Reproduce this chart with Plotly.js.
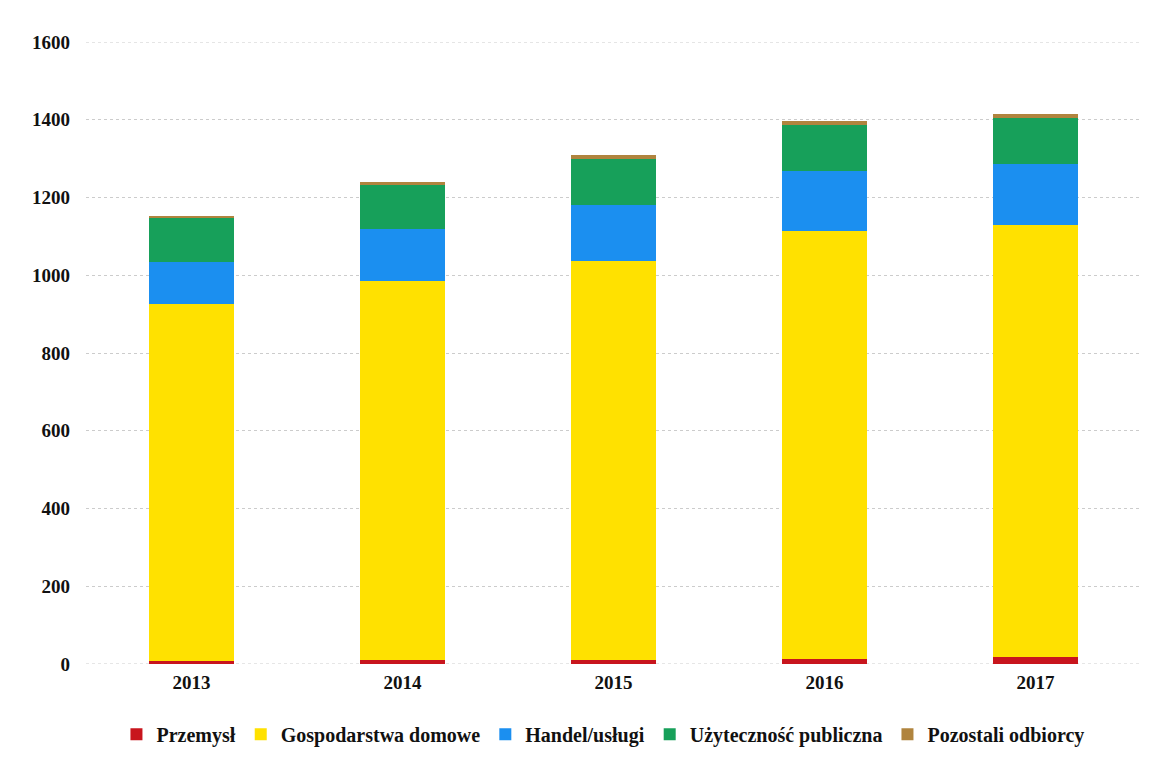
<!DOCTYPE html>
<html>
<head>
<meta charset="utf-8">
<script src="https://cdn.plot.ly/plotly-3.0.1.min.js"></script>
<style>html,body{margin:0;padding:0;background:#fff;}#chart{width:1154px;height:765px;}</style>
</head>
<body>
<div id="chart"></div>
<script>
const years = ['2013', '2014', '2015', '2016', '2017'];
const przemysl = [7, 10, 11, 14, 17];
const gospodarstwa = [920, 974, 1026, 1101, 1113];
const handel = [108, 136, 144, 153, 157];
const uzytecznosc = [113, 113, 119, 119, 118];
const pozostali = [5, 6, 9, 11, 10];
const edgeGridValues = [0, 1600];

const seriesNames = ['Przemysł', 'Gospodarstwa domowe', 'Handel/usługi', 'Użyteczność publiczna', 'Pozostali odbiorcy'];
const seriesValues = [przemysl, gospodarstwa, handel, uzytecznosc, pozostali];
const colors = ['#c8151d', '#ffe100', '#1b8ff0', '#17a05a', '#b0843e'];

const traces = seriesNames.map((n, i) => ({
  type: 'bar',
  name: n,
  x: years,
  y: seriesValues[i],
  marker: {color: colors[i], line: {width: 0}},
  hoverinfo: 'x+y+name'
}));

const shapes = edgeGridValues.map(v => ({
  type: 'line', xref: 'paper', yref: 'y', x0: 0, x1: 1, y0: v, y1: v,
  layer: 'below', line: {color: '#cccccc', width: 1, dash: 'dot'}
}));

const layout = {
  width: 1154,
  height: 765,
  barmode: 'stack',
  bargap: 0.6,
  paper_bgcolor: '#ffffff',
  plot_bgcolor: '#ffffff',
  margin: {l: 86, r: 13, t: 42, b: 100},
  font: {family: '"Liberation Serif", "Times New Roman", serif', color: '#111', size: 19},
  shapes: shapes,
  xaxis: {
    type: 'category',
    showgrid: false,
    showline: false,
    zeroline: false,
    tickfont: {size: 19, family: '"Liberation Serif", serif', weight: 'bold'},
    ticks: '',
    ticklabelstandoff: 5
  },
  yaxis: {
    range: [0, 1600],
    dtick: 200,
    showgrid: true,
    gridcolor: '#cccccc',
    griddash: 'dot',
    gridwidth: 1,
    zeroline: false,
    showline: false,
    ticks: '',
    ticklabelstandoff: 15,
    tickfont: {size: 19, family: '"Liberation Serif", serif', weight: 'bold'}
  },
  legend: {
    orientation: 'h',
    x: 0.49,
    xanchor: 'center',
    y: -0.08,
    yanchor: 'top',
    itemwidth: 30,
    traceorder: 'normal',
    font: {size: 20, family: '"Liberation Serif", serif', weight: 'bold'}
  },
  showlegend: true
};

Plotly.newPlot('chart', traces, layout, {displayModeBar: false, staticPlot: true});
</script>
</body>
</html>
